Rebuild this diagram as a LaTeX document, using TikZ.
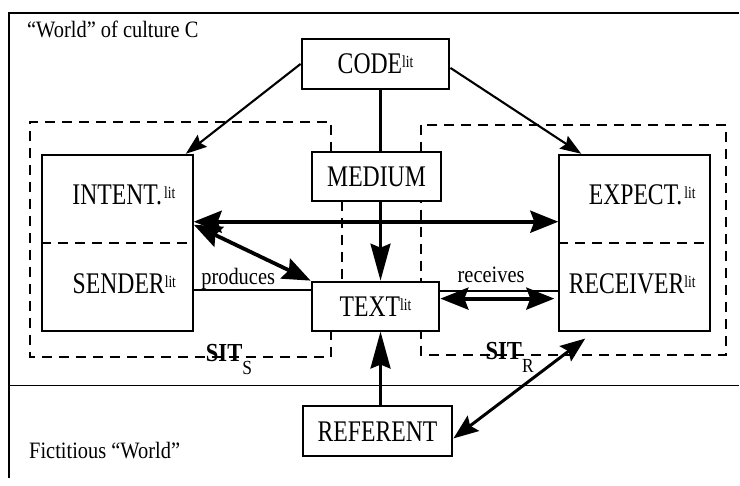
\documentclass[tikz,border=0pt]{standalone}
\usepackage{fontspec}
\setmainfont{Liberation Serif}
\newfontfamily\boxfont[FakeStretch=0.79]{Liberation Serif}
\newfontfamily\notefont[FakeStretch=0.87]{Liberation Serif}
\usepackage{tikz}
\usetikzlibrary{arrows.meta,positioning}
\newcommand{\litmark}{\raisebox{6pt}{\fontsize{17}{17}\selectfont lit}}
\tikzset{
  frameLine/.style={line width=1.9pt},
  sitLine/.style={line width=2pt, dash pattern=on 10pt off 7pt},
  labelBox/.style={draw, line width=2pt, fill=white, inner sep=0pt, font=\boxfont\fontsize{30}{30}\selectfont, text height=20pt, text depth=0pt},
  bigBox/.style={draw, line width=2pt, fill=white, minimum width=151pt, minimum height=176pt, inner sep=0pt},
  boxText/.style={font=\boxfont\fontsize{30}{30}\selectfont, anchor=base, inner sep=0pt},
  noteLabel/.style={font=\notefont\fontsize{23.5}{23.5}\selectfont, inner sep=0pt},
  sitLabel/.style={font=\notefont\bfseries\fontsize{26}{26}\selectfont, inner sep=0pt, anchor=base west},
  plainLine/.style={line width=1.8pt},
  axisLine/.style={line width=3pt},
  axisArrow/.style={-{Stealth[length=37pt,width=20pt,inset=4pt]}, line width=3pt},
  codeArrow/.style={-{Stealth[length=21pt,width=15pt,inset=3pt]}, line width=2.1pt},
  heavyArrow/.style={{Stealth[length=28pt,width=22pt,inset=4pt]}-{Stealth[length=28pt,width=22pt,inset=4pt]}, line width=3.8pt},
  refArrow/.style={{Stealth[length=25pt,width=19pt,inset=4pt]}-{Stealth[length=25pt,width=19pt,inset=4pt]}, line width=3pt}
}
\begin{document}
\begin{tikzpicture}[x=1pt,y=-1pt]
  \path[fill=white] (0,0) rectangle (740,486);
  % the two worlds
  \draw[frameLine] (740,13) -- (9,13) -- (9,479);
  \draw[frameLine] (9,386) -- (740,386);
  \node[noteLabel, anchor=base west] (culture) at (27,38) {“World” of culture C};
  \node[noteLabel, anchor=base west] (fiction) at (29,459) {Fictitious “World”};

  % situations of sender and receiver
  \draw[sitLine] (331,152) -- (331,122) -- (30,122) -- (30,357) -- (331,357) -- (331,331);
  \draw[sitLine] (342,201) -- (342,282);
  \draw[sitLine] (422,125) rectangle (727,355);
  \node[sitLabel] (sitS) at (206,362) {SIT\raisebox{-13pt}{\mdseries\fontsize{20}{20}\selectfont S}};
  \node[sitLabel] (sitR) at (486,360) {SIT\raisebox{-13pt}{\mdseries\fontsize{20}{20}\selectfont R}};

  % boxes
  \node[labelBox, minimum width=148pt, minimum height=50pt] (code) at (376,64) {CODE\litmark};
  \node[labelBox, minimum width=130pt, minimum height=49pt] (medium) at (377,176.5) {MEDIUM};
  \node[labelBox, minimum width=128pt, minimum height=49pt] (text) at (376,306.5) {TEXT\litmark};
  \node[labelBox, minimum width=150pt, minimum height=50pt] (referent) at (378,432) {REFERENT};
  \node[bigBox] (sendbox) at (117.5,243) {};
  \node[bigBox] (recvbox) at (635.5,243) {};
  \draw[sitLine] (sendbox.west) -- (sendbox.east);
  \draw[sitLine] (recvbox.west) -- (recvbox.east);
  \node[boxText] (intent) at (124,205) {INTENT.\hspace{2pt}\litmark};
  \node[boxText] (sender) at (124.5,294) {SENDER\litmark};
  \node[boxText] (expect) at (643,205) {EXPECT.\hspace{2pt}\litmark};
  \node[boxText] (receiver) at (633,294) {RECEIVER\litmark};

  % connectors
  \coordinate (axis) at (381,0);
  \draw[axisLine] (code.south -| axis) -- (medium.north -| axis);
  \draw[axisArrow] (medium.south -| axis) -- (text.north -| axis);
  \draw[axisArrow] (referent.north -| axis) -- (text.south -| axis);
  \draw[codeArrow] (code.west) -- ([xshift=-8pt]sendbox.north east);
  \draw[codeArrow] ([yshift=-4pt]code.east) -- ([xshift=23pt]recvbox.north west);
  \draw[heavyArrow] ([yshift=21pt]sendbox.east) -- ([yshift=21pt]recvbox.west);
  \draw[heavyArrow] ([yshift=18pt]sendbox.east) -- (text.north west);
  \coordinate (prodL) at ([yshift=-47pt]sendbox.east);
  \draw[plainLine] (prodL) -- (prodL -| text.west) node[noteLabel, pos=0.38, anchor=base, yshift=5pt] {produces};
  \coordinate (recvL) at ([yshift=15.5pt]text.east);
  \draw[plainLine] (recvL) -- (recvL -| recvbox.west) node[noteLabel, pos=0.43, anchor=base, yshift=8pt] {receives};
  \coordinate (recvA) at ([yshift=7.5pt]text.east);
  \draw[heavyArrow] (recvA) -- ([xshift=-4pt]recvA -| recvbox.west);
  \draw[refArrow] ([yshift=-7pt]referent.east) -- ([xshift=27pt,yshift=-7pt]recvbox.south west);
\end{tikzpicture}
\end{document}
